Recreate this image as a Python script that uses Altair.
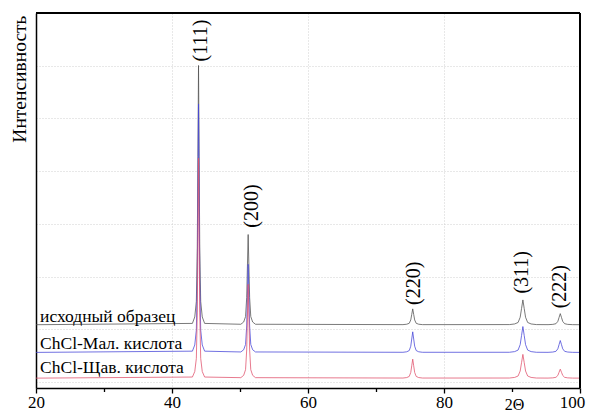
import altair as alt
import pandas as pd

# ---- data ----
SERIES = ["исходный образец", "ChCl-Мал. кислота", "ChCl-Щав. кислота"]
COLORS = ["#505050", "#4444d8", "#e0506a"]
BASELINES = [1.09, 0.565, 0.077]

PEAK_POS = [43.9, 51.2, 75.4, 91.6, 97.1]
PEAK_WIDTH = [1.0, 1.2, 1.6, 2.2, 2.0]
HEIGHT_BLACK = [4.915, 1.71, 0.30, 0.47, 0.21]
HEIGHT_BLUE = [4.71, 1.67, 0.39, 0.49, 0.225]
HEIGHT_RED = [4.17, 1.78, 0.36, 0.45, 0.17]

PROFILE_OFFSET = [-0.9, -0.55, -0.32, -0.18, -0.09, 0.0, 0.09, 0.18, 0.32, 0.55, 0.9]
PROFILE_REL = [0.005, 0.03, 0.09, 0.3, 0.65, 1.0, 0.65, 0.3, 0.09, 0.03, 0.005]
X_START, X_END = 20, 100

PEAK_LABELS = ["(111)", "(200)", "(220)", "(311)", "(222)"]
LABEL_X = [44.2, 51.7, 75.6, 91.5, 97.1]
LABEL_Y = [6.08, 2.93, 1.465, 1.68, 1.40]

SERIES_LABEL_X = 20.6
SERIES_LABEL_Y = [1.14, 0.635, 0.165]

X_TICKS = [20, 30, 40, 50, 60, 70, 80, 90, 100]
Y_GRID = [0, 1, 2, 3, 4, 5, 6, 7]

# ---- build table ----
heights = [HEIGHT_BLACK, HEIGHT_BLUE, HEIGHT_RED]
rows = []
for s, base, hs in zip(SERIES, BASELINES, heights):
    rows.append({"series": s, "x": X_START, "y": base})
    for c, w, h in zip(PEAK_POS, PEAK_WIDTH, hs):
        for o, r in zip(PROFILE_OFFSET, PROFILE_REL):
            rows.append({"series": s, "x": c + o * w, "y": base + h * r})
    rows.append({"series": s, "x": X_END, "y": base})
df = pd.DataFrame(rows)

peaks_df = pd.DataFrame({"label": PEAK_LABELS, "x": LABEL_X, "y": LABEL_Y})
names_df = pd.DataFrame({"label": SERIES, "x": [SERIES_LABEL_X] * 3, "y": SERIES_LABEL_Y})

FONT = "Liberation Serif"
W, H = 544, 375

xscale = alt.Scale(domain=[20, 100], nice=False, zero=False)
yscale = alt.Scale(domain=[-0.11, 7], nice=False, zero=False)

major = "datum.value % 20 === 0"

x_axis = alt.Axis(
    values=X_TICKS,
    labelExpr=f"{major} ? datum.label : ''",
    labelFont=FONT,
    labelFontSize=17,
    labelColor="black",
    labelPadding=1,
    labelFlush=False,
    labelOffset={"condition": {"test": "datum.value === 100", "value": -8}, "value": 0},
    tickColor="black",
    tickWidth=1.3,
    tickSize={"condition": {"test": major, "value": 5}, "value": 3.5},
    domainColor="black",
    domainWidth=1.5,
    grid=True,
    gridColor="#d0d0d0",
    gridDash=[1, 2],
    gridWidth=1,
    gridOpacity={"condition": {"test": major, "value": 1}, "value": 0},
    title="2Θ",
    titleFont=FONT,
    titleFontSize=16,
    titleFontWeight="normal",
    titleColor="black",
    titleX=478,
    titleY=21,
    titleAlign="center",
    titleBaseline="alphabetic",
)

y_axis = alt.Axis(
    values=Y_GRID,
    labels=False,
    ticks=False,
    domainColor="black",
    domainWidth=1.5,
    grid=True,
    gridColor="#d0d0d0",
    gridDash=[1, 2],
    gridWidth=1,
    title="Интенсивность",
    titleFont=FONT,
    titleFontSize=19.5,
    titleFontWeight="normal",
    titleColor="black",
    titleAngle=270,
    titleAlign="right",
    titleBaseline="alphabetic",
    titleX=-11,
    titleY=2,
)

lines = alt.Chart(df).mark_line(strokeWidth=0.9, opacity=0.85).encode(
    x=alt.X("x:Q", scale=xscale, axis=x_axis),
    y=alt.Y("y:Q", scale=yscale, axis=y_axis),
    color=alt.Color("series:N", scale=alt.Scale(domain=SERIES, range=COLORS), legend=None),
    order=alt.Order("x:Q"),
)

peak_text = alt.Chart(peaks_df).mark_text(
    font=FONT, fontSize=20, angle=270, align="left", baseline="middle", color="black"
).encode(
    x=alt.X("x:Q", scale=xscale),
    y=alt.Y("y:Q", scale=yscale),
    text="label:N",
)

name_text = alt.Chart(names_df).mark_text(
    font=FONT, fontSize=17.5, align="left", baseline="alphabetic", color="black"
).encode(
    x=alt.X("x:Q", scale=xscale),
    y=alt.Y("y:Q", scale=yscale),
    text="label:N",
)

# frame (top and right edges of the plot box)
frame_top = alt.Chart(df).mark_rule(color="black", strokeWidth=1.5).encode(
    x=alt.value(0), x2=alt.value(W), y=alt.value(0)
)
frame_right = alt.Chart(df).mark_rule(color="black", strokeWidth=1.5).encode(
    x=alt.value(W), y=alt.value(0), y2=alt.value(H)
)

chart = (
    alt.layer(lines, peak_text, name_text, frame_top, frame_right)
    .properties(
        width=W,
        height=H,
        autosize=alt.AutoSizeParams(type="none"),
        padding={"left": 28, "top": 5, "right": 8, "bottom": 23},
        background="white",
    )
    .configure_view(stroke="black", strokeWidth=1.5)
    .configure(font=FONT)
)

chart.save("out.html", embed_options={"renderer": "svg", "actions": False})
